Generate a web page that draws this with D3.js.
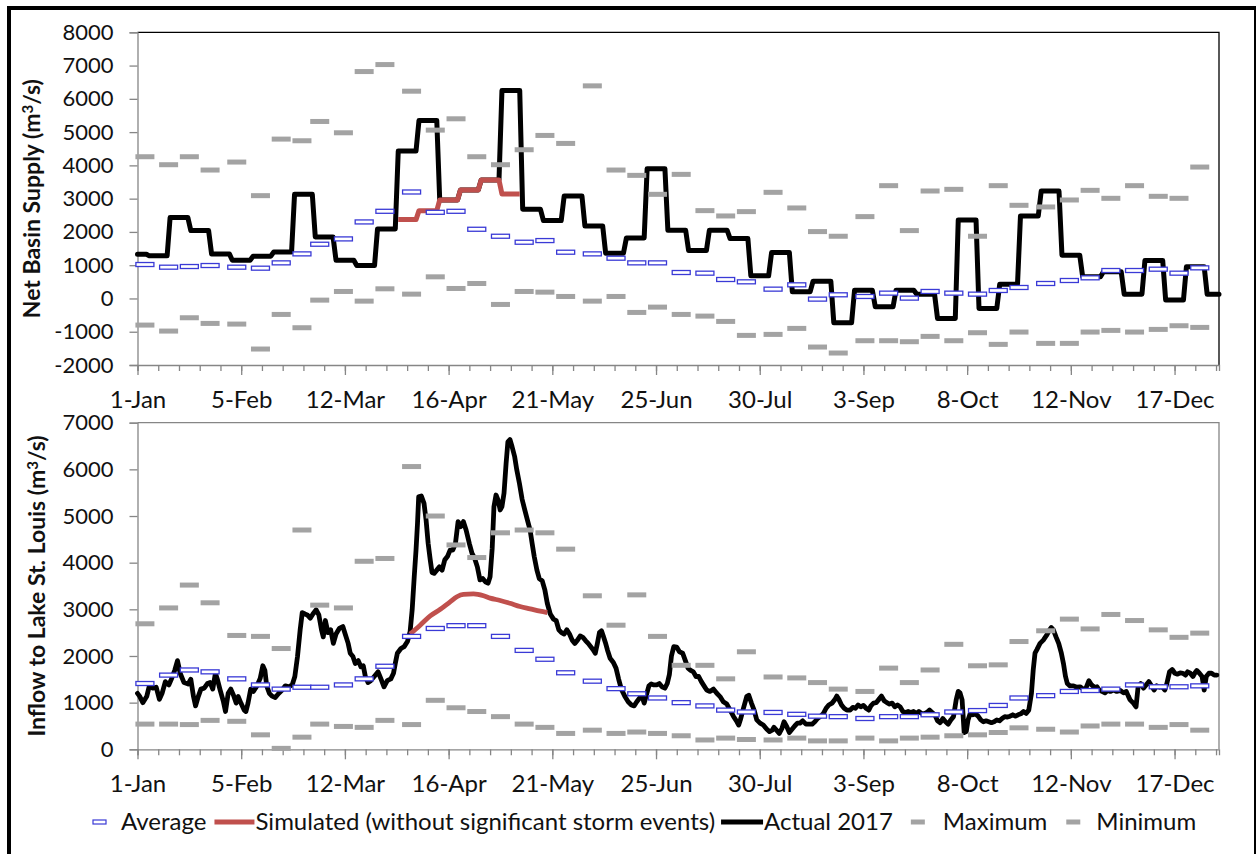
<!DOCTYPE html>
<html>
<head>
<meta charset="utf-8">
<script src="https://cdn.jsdelivr.net/npm/d3@7"></script>
<style>
  body { margin: 0; background: #fff; }
  svg { display: block; }
  text { font-family: Lato, "Open Sans", sans-serif; fill: #111; }
</style>
</head>
<body>
<svg id="chart" width="1258" height="854"></svg>
<script>
// ---- data (2017, day 0 = 1-Jan) ----
// Net Basin Supply, actual 2017, weekly steps (first and last weeks partial)
const nbsActual = [1330, 1280, 2430, 2040, 1340, 1150, 1270, 1400, 3130, 1850, 1150, 990, 2090,
  4430, 5350, 2960, 3260, 3560, 6250, 2680, 2340, 3080, 2180, 1360, 1820, 3900, 2050, 1440,
  2050, 1800, 680, 1380, 200, 520, -730, 250, -250, 250, 130, -600, 2360, -300, 430, 2480,
  3230, 1300, 650, 800, 130, 1140, -50, 950, 130];
const nbsSimWeeks = [13, 14, 15, 16, 17, 18];
const nbsSimulated = [2370, 2640, 2960, 3260, 3560, 3140];

// quarter-monthly statistics
const nbsAverage = [1020, 940, 960, 990, 940, 910, 1070, 1340, 1630, 1790, 2300, 2620, 3200,
  2590, 2620, 2080, 1870, 1690, 1740, 1390, 1340, 1210, 1070, 1070, 780, 760, 570, 500, 280, 410, -20,
  110, 60, 160, 10, 210, 160, 130, 240, 330, 450, 540, 620, 840, 840, 880, 760, 920];
const nbsMaximum = [4260, 4020, 4260, 3860, 4100, 3090, 4790, 4740, 5320, 4980, 6820, 7030, 6230,
  5060, 5400, 4260, 4020, 4470, 4900, 4660, 6390, 3860, 3700, 3130, 3730, 2640, 2480, 2610, 3190, 2720, 2010,
  1870, 2460, 3390, 2040, 3230, 3280, 1870, 3390, 2800, 2750, 2960, 3250, 3010, 3390, 3070, 3010, 3950];
const nbsMinimum = [-800, -980, -580, -750, -770, -1520, -480, -880, -50, 210, -80, 290, 130,
  650, 300, 450, -180, 210, 190, 60, -80, 60, -420, -260, -480, -530, -690, -1110, -1080, -900, -1460,
  -1640, -1270, -1270, -1300, -1140, -1270, -1030, -1380, -1010, -1350, -1350, -1010, -960, -1010, -930, -820, -870];

const inflowAverage = [1410, 1590, 1700, 1660, 1510, 1380, 1290, 1330, 1330, 1380, 1510, 1780,
  2420, 2590, 2650, 2650, 2420, 2120, 1930, 1640, 1460, 1300, 1190, 1100,
  1000, 930, 840, 800, 790, 750, 710, 700, 660, 700, 700, 740,
  800, 830, 940, 1100, 1150, 1240, 1260, 1290, 1380, 1340, 1340, 1360];
const inflowMaximum = [2690, 3030, 3520, 3140, 2440, 2420, 2160, 4700, 3090, 3030, 4030, 4090,
  6060, 5000, 4380, 4110, 4640, 4700, 4640, 4290, 3290, 2660, 3310, 2420,
  1800, 1800, 1510, 2090, 1550, 1530, 1430, 1290, 1240, 1740, 1430, 1700,
  2250, 1790, 1810, 2310, 2540, 2790, 2580, 2890, 2760, 2560, 2400, 2490];
const inflowMinimum = [540, 540, 530, 620, 600, 310, 20, 260, 540, 490, 470, 620,
  530, 1050, 890, 810, 700, 540, 470, 340, 410, 340, 370, 340,
  290, 200, 240, 210, 200, 240, 180, 180, 240, 180, 240, 260,
  290, 310, 360, 460, 430, 370, 500, 540, 540, 470, 530, 410];

// Inflow to Lake St. Louis, actual 2017 [day of year, m3/s]
const inflowActual = [[0,1200],[0.7,1140],[1.8,1000],[3.1,1130],[4,1360],[5.2,1310],[6.3,1330],[7.4,1070],[8.3,1200],
  [9.4,1450],[10.6,1380],[11.4,1500],[12.6,1700],[13.5,1900],[14.4,1630],[15.7,1430],[17.1,1400],[18,1500],
  [18.9,1130],[19.6,930],[20.5,1130],[21.4,1290],[22.5,1310],[23.6,1410],[24.5,1430],[25.4,1290],[26.3,1630],
  [27,1490],[27.9,1270],[29,1020],[29.7,810],[30.6,1200],[31.5,1290],[32.4,1160],[33.3,990],[34,1130],
  [34.9,990],[36,840],[36.6,810],[37.3,990],[38.2,1290],[39.1,1240],[40.3,1360],[41.4,1520],[42.3,1790],
  [43,1690],[43.6,1360],[44.5,1200],[45.4,1140],[46.5,1110],[47.7,1200],[48.8,1270],[49.9,1360],[51.1,1340],
  [52.2,1380],[53.1,1560],[54,1990],[54.9,2560],[55.6,2930],[56.5,2900],[57.3,2880],[58.3,2810],[59.2,2900],
  [60.3,2990],[61.2,2880],[62.1,2560],[62.7,2410],[63.4,2760],[64.3,2500],[65.2,2560],[66.1,2270],[67,2470],
  [68.1,2590],[69.3,2630],[70.2,2450],[71.1,2270],[71.8,2060],[72.7,1990],[73.5,1840],[74.5,1900],[75.4,1770],
  [76.2,1790],[76.9,1560],[77.8,1430],[78.7,1470],[79.9,1560],[81.2,1660],[82.1,1520],[83.2,1340],[84.3,1470],
  [85.5,1510],[86.4,1630],[87,1840],[87.7,2060],[88.9,2160],[90,2200],[91.1,2310],[92,2520],[92.7,2990],
  [93.4,3700],[94,4270],[94.5,4840],[94.9,5410],[95.8,5430],[96.7,5270],[97.4,4910],[98.1,4410],[98.8,4060],
  [99.4,3790],[100.1,3770],[101,3840],[101.9,3910],[102.8,3840],[103.7,4060],[104.6,4130],[105.5,4270],
  [106.4,4270],[107.3,4410],[108.2,4880],[109.1,4770],[110,4880],[110.9,4700],[112,4410],[112.9,4200],
  [113.8,4090],[114.7,3910],[115.6,3630],[116.5,3660],[117.4,3590],[118.3,3560],[119,3700],[119.7,4300],
  [120.3,5200],[121,5450],[121.7,5340],[122.4,5130],[123,5200],[123.7,5490],[124.4,6130],[125,6590],
  [125.7,6640],[126.4,6490],[127.3,6270],[128,5990],[128.9,5700],[129.8,5360],[130.7,5130],[131.6,4910],
  [132.5,4700],[133.2,4410],[133.9,4130],[134.8,3840],[135.6,3660],[136.6,3610],[137.5,3410],[138.3,3130],
  [139.3,2900],[140.4,2790],[141.3,2760],[142.2,2560],[143.1,2500],[144,2470],[144.9,2560],[145.8,2470],
  [146.7,2340],[147.6,2270],[148.5,2340],[149.4,2430],[150.3,2400],[151.2,2330],[152.1,2270],[153.7,2140],
  [154.5,2060],[155.2,2270],[155.9,2500],[156.6,2540],[157.2,2430],[157.9,2290],[158.6,2130],[159.5,1950],
  [160.6,1860],[161.5,1740],[162.4,1500],[163.3,1290],[164.5,1130],[165.6,1020],[166.7,950],[167.6,930],
  [168.5,1020],[169.6,1110],[170.3,1130],[171,990],[171.6,1130],[172.6,1360],[173.4,1400],[174.3,1380],
  [175.2,1380],[176.1,1410],[177,1340],[178,1310],[178.8,1410],[179.5,1600],[180.2,2000],[181,2200],
  [182,2190],[182.9,2090],[184,2060],[184.9,1900],[185.8,1740],[186.7,1690],[187.6,1660],[188.5,1560],
  [189.4,1560],[190.3,1450],[191.2,1360],[192.1,1270],[193.2,1240],[194.4,1290],[195.5,1200],[196.6,1130],
  [197.7,1020],[198.9,970],[200,840],[201.1,710],[202.3,590],[202.9,520],[203.6,660],[204.5,880],[205.6,1130],
  [206.3,1160],[207.2,990],[208.1,840],[209,630],[210.1,560],[211.2,520],[212.4,430],[213.3,380],[214.2,410],
  [214.8,470],[215.8,400],[216.6,340],[217.5,450],[218.2,590],[219.1,490],[220,360],[220.9,430],[221.8,500],
  [222.7,560],[223.6,560],[224.5,610],[225.6,540],[226.6,540],[227.7,540],[228.6,590],[229.5,660],[230.6,710],
  [231.5,770],[232.4,880],[233.3,950],[234.4,990],[235.3,1060],[236,1140],[236.7,1070],[237.6,950],[238.5,880],
  [239.4,840],[240.5,840],[241.4,900],[242.3,880],[243.2,950],[244.1,910],[245,940],[245.9,880],[246.8,840],
  [247.5,930],[248.4,990],[249.3,1000],[250.2,1070],[251.1,1140],[252,1040],[252.9,1000],[253.8,970],
  [254.7,990],[255.6,910],[256.5,950],[257.4,910],[258.3,810],[259.2,790],[260.1,810],[261,790],[261.9,810],
  [262.8,770],[263.7,810],[264.6,770],[265.5,760],[266.4,790],[267.3,840],[268.2,790],[269.1,740],[270,610],
  [270.9,570],[271.8,660],[272.7,590],[273.6,540],[274.5,630],[275.4,700],[276.3,1060],[277,1240],[277.6,1210],
  [278.3,1060],[279,360],[279.7,380],[280.3,630],[281,760],[281.9,740],[282.8,760],[283.7,710],[284.6,630],
  [285.5,590],[286.4,610],[287.3,590],[288.2,570],[289.1,590],[290,630],[290.9,610],[291.8,660],[292.7,700],
  [293.6,690],[294.5,710],[295.4,740],[296.3,710],[297.2,740],[298.1,760],[299,810],[299.9,770],[300.8,840],
  [301.7,1200],[302.3,1700],[302.9,2060],[303.5,2130],[304.6,2270],[305.7,2340],[306.9,2450],[307.8,2560],
  [308.4,2610],[309.1,2560],[310,2410],[310.9,2270],[311.8,2060],[312.5,1840],[313.2,1560],[313.8,1410],
  [314.7,1360],[315.9,1360],[317,1330],[318.1,1340],[319.2,1290],[320.1,1310],[321.1,1470],[322,1380],
  [322.9,1330],[323.8,1340],[324.6,1270],[325.5,1240],[326.5,1210],[327.4,1260],[328.3,1240],[329.4,1270],
  [330.5,1240],[331.7,1260],[332.8,1210],[333.7,1240],[334.4,1140],[335,1060],[336.1,990],[337,910],
  [337.7,1340],[338.6,1410],[339.5,1310],[340.4,1380],[341.3,1450],[342.2,1360],[343.1,1270],[344,1360],
  [344.9,1330],[345.8,1340],[346.7,1270],[347.4,1410],[348.3,1660],[349.2,1710],[350.1,1630],[351,1610],
  [351.9,1640],[352.8,1630],[353.7,1590],[354.4,1660],[355.3,1630],[356.2,1560],[356.8,1630],[357.5,1690],
  [358.4,1630],[359.3,1560],[360,1270],[360.7,1560],[361.6,1630],[362.5,1630],[363.4,1590],[364.3,1590]];
const inflowSimulated = [[92,2470],[95.4,2660],[98.8,2860],[102.2,3000],[105.5,3160],[107.8,3270],[110,3320],
  [113.4,3330],[116.8,3290],[119,3240],[122.4,3190],[125.7,3130],[129.1,3060],[132.5,3010],[135.9,2960],[138.3,2930]];

const qmStartDays = [1, 9, 16, 23];   // quarter-month periods start on these days of each month
const legendLabels = ["Average", "Simulated (without significant storm events)", "Actual 2017", "Maximum", "Minimum"];

// ---- helpers ----
const t0 = Date.UTC(2017, 0, 1);
const dayToDate = d => new Date(t0 + d * 864e5);
const qmDates = d3.range(12).flatMap(m => qmStartDays.map(d => new Date(Date.UTC(2017, m, d) + 2.5 * 864e5)));

const svg = d3.select("#chart");
const W = 1258, H = 854;
const axisGray = "#868686";
const blue = "#3a3ad6", red = "#c0504d", gray = "#a3a3a3";

const x = d3.scaleUtc().domain([dayToDate(0), dayToDate(365)]).range([137.5, 1219]);
const weekTicks = d3.range(0, 365, 7).map(dayToDate);
const labelTicks = d3.range(0, 365, 35).map(dayToDate);

// outer frame
svg.append("line").attr("x1", 9).attr("x2", 9).attr("y1", 6).attr("y2", H).attr("stroke", "#000").attr("stroke-width", 4);
svg.append("line").attr("x1", 7).attr("x2", 1256).attr("y1", 8).attr("y2", 8).attr("stroke", "#000").attr("stroke-width", 4);
svg.append("line").attr("x1", 1255).attr("x2", 1255).attr("y1", 6).attr("y2", H).attr("stroke", "#000").attr("stroke-width", 2);

function panel(opts) {
  const y = d3.scaleLinear().domain(opts.domain).range([opts.bottom, opts.top]);
  const g = svg.append("g");

  // frame top/right
  g.append("path")
    .attr("d", `M${x.range()[0]},${opts.top}H${x.range()[1]}V${opts.bottom}`)
    .attr("fill", "none").attr("stroke", opts.frame).attr("stroke-width", 1.3);

  // y axis
  const ya = g.append("g").attr("transform", `translate(${x.range()[0]},0)`)
    .call(d3.axisLeft(y).tickValues(d3.range(opts.domain[0], opts.domain[1] + 1, 1000))
      .tickSize(8).tickPadding(16).tickFormat(d => String(d)));
  ya.selectAll("text").style("font-size", "22px");

  // x axis: weekly minor ticks + labelled major ticks
  const xa = g.append("g").attr("transform", `translate(0,${opts.bottom})`)
    .call(d3.axisBottom(x).tickValues(weekTicks).tickSize(6).tickFormat(""));
  const xl = g.append("g").attr("transform", `translate(0,${opts.bottom})`)
    .call(d3.axisBottom(x).tickValues(labelTicks).tickSize(10).tickPadding(16).tickFormat(d3.utcFormat("%-d-%b")));
  xl.select(".domain").remove();
  xl.selectAll("text").style("font-size", "24px");
  [ya, xa, xl].forEach(a => {
    a.selectAll("line").attr("stroke", axisGray).attr("stroke-width", 1.3);
    a.selectAll(".domain").attr("stroke", axisGray).attr("stroke-width", 1.3);
    a.selectAll("text").attr("fill", "#111");
  });

  // title
  const tt = g.append("text")
    .attr("transform", `translate(${opts.titleX},${(opts.top + opts.bottom) / 2}) rotate(-90)`)
    .attr("text-anchor", "middle").attr("dy", "0.35em")
    .style("font-size", "23px").style("font-weight", "bold");
  tt.append("tspan").text(opts.title);
  tt.append("tspan").text("3").attr("dy", "-0.45em").style("font-size", "15px");
  tt.append("tspan").text("/s)").attr("dy", "0.3em");

  // lines
  const line = d3.line().x(d => x(dayToDate(d[0]))).y(d => y(d[1]));
  g.append("path").datum(opts.actual).attr("d", line)
    .attr("fill", "none").attr("stroke", "#000").attr("stroke-width", opts.lineW)
    .attr("stroke-linejoin", "round").attr("stroke-linecap", "round");
  g.append("path").datum(opts.simulated).attr("d", opts.simCurve ? line.curve(opts.simCurve) : line)
    .attr("fill", "none").attr("stroke", red).attr("stroke-width", opts.lineW)
    .attr("stroke-linejoin", "round").attr("stroke-linecap", "butt");

  // quarter-monthly markers
  g.selectAll(".mx").data(opts.max).join("rect")
    .attr("x", (d, i) => x(qmDates[i]) - 9.5).attr("y", d => y(d) - 2.5)
    .attr("width", 19).attr("height", 5).attr("fill", gray);
  g.selectAll(".mn").data(opts.min).join("rect")
    .attr("x", (d, i) => x(qmDates[i]) - 9.5).attr("y", d => y(d) - 2.5)
    .attr("width", 19).attr("height", 5).attr("fill", gray);
  g.selectAll(".av").data(opts.avg).join("rect")
    .attr("x", (d, i) => x(qmDates[i]) - 9).attr("y", d => y(d) - 2)
    .attr("width", 18).attr("height", 4).attr("fill", "#fff")
    .attr("stroke", blue).attr("stroke-width", 1.3);
}

// weekly step points: week k holds from day 7k-3 to 7k+3 (1-day ramps in between)
const stepPoints = (vals, weeks) => vals.flatMap((v, j) => {
  const k = weeks ? weeks[j] : j;
  return [[Math.max(0, 7 * k - 3), v], [Math.min(365, 7 * k + 3), v]];
});

panel({
  top: 32.3, bottom: 365, domain: [-2000, 8000], frame: "#000",
  title: "Net Basin Supply (m", titleX: 32, lineW: 5,
  actual: stepPoints(nbsActual), simulated: stepPoints(nbsSimulated, nbsSimWeeks),
  avg: nbsAverage, max: nbsMaximum, min: nbsMinimum
});
panel({
  top: 422.7, bottom: 749.3, domain: [0, 7000], frame: axisGray,
  title: "Inflow to Lake St. Louis (m", titleX: 37, lineW: 4.8, simCurve: d3.curveMonotoneX,
  actual: inflowActual, simulated: inflowSimulated,
  avg: inflowAverage, max: inflowMaximum, min: inflowMinimum
});

// legend
const lg = svg.append("g").attr("transform", "translate(0,822)");
let cx = 93;
const legendText = (label) => {
  const t = lg.append("text").attr("x", cx).attr("dy", "0.35em").style("font-size", "24px").text(label);
  cx += t.node().getComputedTextLength();
};
lg.append("rect").attr("x", cx).attr("y", -2).attr("width", 13).attr("height", 4)
  .attr("fill", "#fff").attr("stroke", blue).attr("stroke-width", 1.2);
cx += 28; legendText(legendLabels[0]); cx += 8;
lg.append("line").attr("x1", cx).attr("x2", cx + 40).attr("stroke", red).attr("stroke-width", 5);
cx += 41; legendText(legendLabels[1]); cx += 6;
lg.append("line").attr("x1", cx).attr("x2", cx + 42).attr("stroke", "#000").attr("stroke-width", 5);
cx += 43; legendText(legendLabels[2]); cx += 18;
lg.append("rect").attr("x", cx).attr("y", -2.5).attr("width", 14).attr("height", 5).attr("fill", gray);
cx += 32; legendText(legendLabels[3]); cx += 19;
lg.append("rect").attr("x", cx).attr("y", -2.5).attr("width", 14).attr("height", 5).attr("fill", gray);
cx += 30; legendText(legendLabels[4]);
</script>
</body>
</html>
